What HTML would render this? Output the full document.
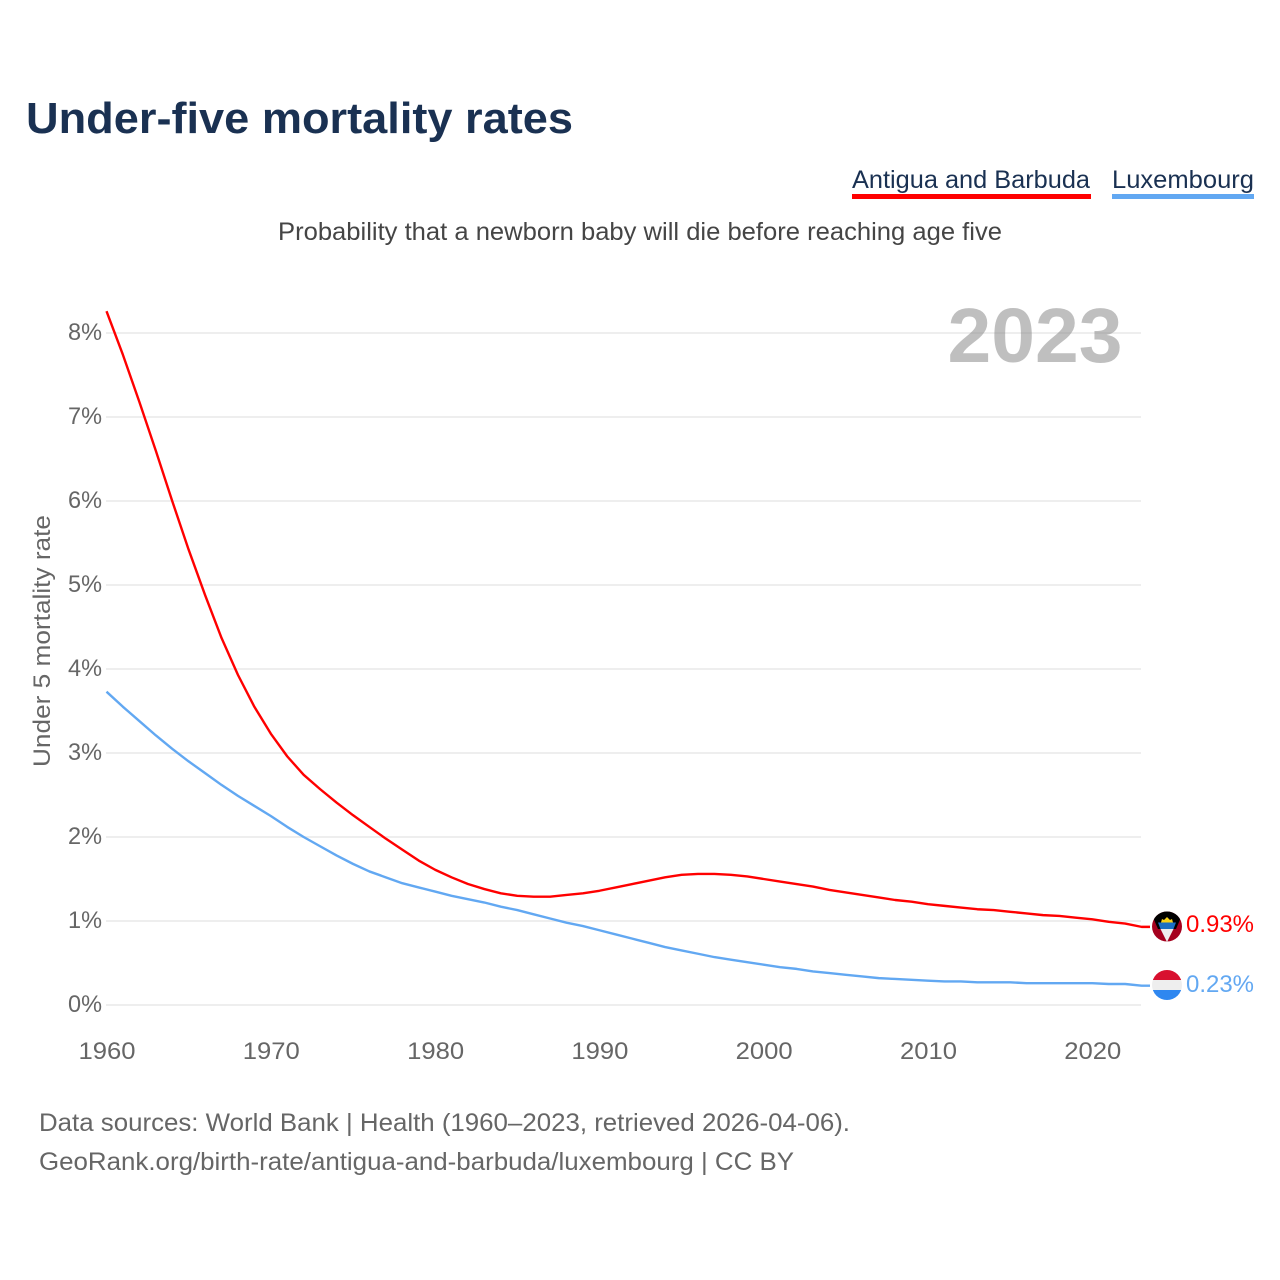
<!DOCTYPE html>
<html lang="en">
<head>
<meta charset="utf-8">
<title>Under-five mortality rates</title>
<style>
html,body{margin:0;padding:0;background:#fff;width:1280px;height:1280px;overflow:hidden}
svg{display:block}
text{font-family:"Liberation Sans",sans-serif}
</style>
</head>
<body>
<svg id="chart" xmlns="http://www.w3.org/2000/svg" width="1280" height="1280" viewBox="0 0 1280 1280">
  <defs>
    <clipPath id="clip-ag"><circle cx="1167" cy="926.5" r="15"/></clipPath>
    <clipPath id="clip-lu"><circle cx="1167" cy="985" r="15"/></clipPath>
  </defs>
  <text x="26" y="133" font-size="44" font-weight="700" fill="#1a3152" textLength="547" lengthAdjust="spacingAndGlyphs">Under-five mortality rates</text>

  <g>
    <text x="852" y="188" font-size="25" fill="#1a3152" textLength="238" lengthAdjust="spacingAndGlyphs">Antigua and Barbuda</text>
    <rect x="852" y="194" width="239" height="5" fill="#ff0000"/>
    <text x="1112" y="188" font-size="25" fill="#1a3152" textLength="142" lengthAdjust="spacingAndGlyphs">Luxembourg</text>
    <rect x="1112" y="194" width="142" height="5" fill="#62a8f2"/>
  </g>

  <text x="278" y="240" font-size="25" fill="#454545" textLength="724" lengthAdjust="spacingAndGlyphs">Probability that a newborn baby will die before reaching age five</text>

  <g id="grid"></g>
  <g id="yticks"></g>
  <g id="xticks"></g>

  <text x="0" y="0" transform="translate(50,767) rotate(-90)" font-size="24" fill="#666" textLength="252" lengthAdjust="spacingAndGlyphs">Under 5 mortality rate</text>

  <text x="947.5" y="362" font-size="77" font-weight="700" fill="#808080" fill-opacity="0.5" textLength="175" lengthAdjust="spacingAndGlyphs">2023</text>

  <g id="series"></g>

  <g clip-path="url(#clip-ag)">
    <rect x="1152" y="911" width="30" height="31" fill="#a5001e"/>
    <polygon points="1152,911 1182,911 1182,915 1176,929 1158,929 1152,915" fill="#000"/>
    <polygon points="1158,922.5 1176,922.5 1173.5,929 1160.5,929" fill="#1a6fc4"/>
    <polygon points="1160.5,929 1173.5,929 1167,942" fill="#eeeeee"/>
    <polygon points="1161,922.5 1162,919 1164,920 1167,917 1170,920 1172,919 1173,922.5" fill="#f7d117"/>
  </g>
  <g clip-path="url(#clip-lu)">
    <rect x="1152" y="970" width="30" height="10" fill="#d8102f"/>
    <rect x="1152" y="980" width="30" height="10" fill="#eeeeee"/>
    <rect x="1152" y="990" width="30" height="10" fill="#2f87f0"/>
  </g>

  <text id="label-a" x="1186" y="932" font-size="24" fill="#ff0000" textLength="68" lengthAdjust="spacingAndGlyphs"></text>
  <text id="label-b" x="1186" y="992" font-size="24" fill="#62a8f2" textLength="68" lengthAdjust="spacingAndGlyphs"></text>

  <text x="39" y="1131" font-size="25" fill="#666" textLength="811" lengthAdjust="spacingAndGlyphs">Data sources: World Bank | Health (1960–2023, retrieved 2026-04-06).</text>
  <text x="39" y="1170" font-size="25" fill="#666" textLength="755" lengthAdjust="spacingAndGlyphs">GeoRank.org/birth-rate/antigua-and-barbuda/luxembourg | CC BY</text>
</svg>
<script>
const startYear = 1960;
const yTickValues = [0, 1, 2, 3, 4, 5, 6, 7, 8];
const xTickYears = [1960, 1970, 1980, 1990, 2000, 2010, 2020];
const antiguaValues = [8.26,7.74,7.18,6.6,6.0,5.42,4.88,4.37,3.93,3.55,3.23,2.96,2.74,2.57,2.41,2.26,2.12,1.98,1.85,1.72,1.61,1.52,1.44,1.38,1.33,1.30,1.29,1.29,1.31,1.33,1.36,1.40,1.44,1.48,1.52,1.55,1.56,1.56,1.55,1.53,1.50,1.47,1.44,1.41,1.37,1.34,1.31,1.28,1.25,1.23,1.20,1.18,1.16,1.14,1.13,1.11,1.09,1.07,1.06,1.04,1.02,0.99,0.97,0.93];
const luxembourgValues = [3.73,3.55,3.38,3.21,3.05,2.90,2.76,2.62,2.49,2.37,2.25,2.12,2.00,1.89,1.78,1.68,1.59,1.52,1.45,1.40,1.35,1.30,1.26,1.22,1.17,1.13,1.08,1.03,0.98,0.94,0.89,0.84,0.79,0.74,0.69,0.65,0.61,0.57,0.54,0.51,0.48,0.45,0.43,0.40,0.38,0.36,0.34,0.32,0.31,0.30,0.29,0.28,0.28,0.27,0.27,0.27,0.26,0.26,0.26,0.26,0.26,0.25,0.25,0.23];

const NS = 'http://www.w3.org/2000/svg';
function xScale(year) { return 106.5 + (year - 1960) * 16.43; }
function yScale(v) { return 1005 - v * 84; }
function make(tag, attrs, parent) {
  const el = document.createElementNS(NS, tag);
  for (const k in attrs) el.setAttribute(k, attrs[k]);
  parent.appendChild(el);
  return el;
}

const grid = document.getElementById('grid');
const yticks = document.getElementById('yticks');
const xticks = document.getElementById('xticks');
const series = document.getElementById('series');

yTickValues.forEach(function (v) {
  const line = make('line', {x1: 106, x2: 1141, y1: yScale(v), y2: yScale(v), stroke: '#eeeeee', 'stroke-width': 2}, grid);
  
  
  const t = make('text', {x: 68, y: yScale(v) + 7, 'font-size': 24, fill: '#666', textLength: 34, lengthAdjust: 'spacingAndGlyphs'}, yticks);
  
  
  t.textContent = v + '%';
});

xTickYears.forEach(function (y) {
  const t = make('text', {x: xScale(y) - 28, y: 1059, 'font-size': 24, fill: '#666', textLength: 57, lengthAdjust: 'spacingAndGlyphs'}, xticks);
  
  
  t.textContent = y;
});

function drawLine(values, color, name) {
  const pts = values.map(function (v, i) { return xScale(startYear + i).toFixed(2) + ',' + yScale(v).toFixed(2); });
  const last = values[values.length - 1];
  pts.push('1150,' + yScale(last).toFixed(2));
  const p = make('polyline', {points: pts.join(' '), fill: 'none', stroke: color, 'stroke-width': 2.4, 'stroke-linejoin': 'round', 'stroke-linecap': 'butt'}, series);
  
  
}
drawLine(luxembourgValues, '#62a8f2', 'line-luxembourg');
drawLine(antiguaValues, '#ff0000', 'line-antigua');

document.getElementById('label-a').textContent = antiguaValues[antiguaValues.length - 1].toFixed(2) + '%';
document.getElementById('label-b').textContent = luxembourgValues[luxembourgValues.length - 1].toFixed(2) + '%';
</script>
</body>
</html>
